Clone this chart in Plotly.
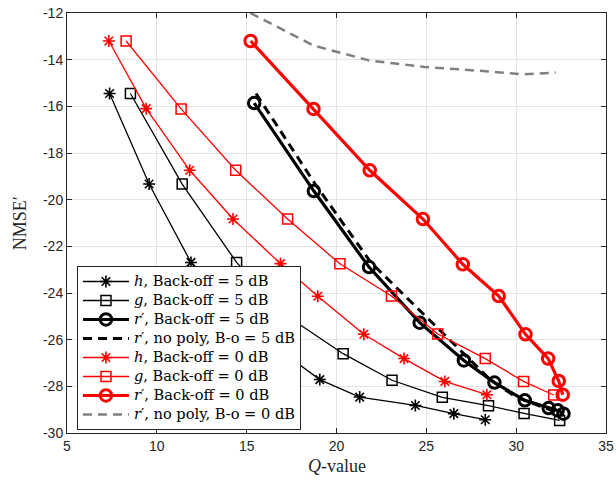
import plotly.graph_objects as go

# ---- data ----
h5_x = [7.37, 9.57, 11.90, 14.20, 17.11, 19.07, 21.29, 24.39, 26.53, 28.28]
h5_y = [-15.45, -19.33, -22.69, -24.90, -26.60, -27.71, -28.46, -28.82, -29.17, -29.43]

g5_x = [8.53, 11.41, 14.44, 17.08, 20.37, 23.09, 25.89, 28.46, 30.44, 32.42]
g5_y = [-15.45, -19.33, -22.69, -24.90, -26.60, -27.74, -28.47, -28.83, -29.16, -29.46]

r5_x = [15.42, 18.74, 21.81, 24.63, 27.09, 28.79, 30.48, 31.81, 32.31, 32.63]
r5_y = [-15.86, -19.63, -22.89, -25.27, -26.89, -27.84, -28.60, -28.93, -29.03, -29.17]

np5_x = [15.52, 18.81, 21.91, 24.85, 27.10, 28.55, 30.00, 31.30, 32.20, 32.65]
np5_y = [-15.45, -19.33, -22.69, -24.90, -26.60, -27.71, -28.46, -28.82, -29.10, -29.25]

h0_x = [7.33, 9.41, 11.83, 14.24, 16.88, 18.96, 21.52, 23.76, 26.03, 28.37]
h0_y = [-13.20, -16.10, -18.74, -20.83, -22.74, -24.14, -25.77, -26.81, -27.79, -28.36]

g0_x = [8.29, 11.35, 14.39, 17.28, 20.19, 23.06, 25.64, 28.28, 30.41, 32.09]
g0_y = [-13.20, -16.11, -18.74, -20.83, -22.75, -24.13, -25.76, -26.81, -27.79, -28.37]

r0_x = [15.22, 18.72, 21.85, 24.81, 27.03, 29.03, 30.52, 31.78, 32.37, 32.59]
r0_y = [-13.20, -16.11, -18.74, -20.83, -22.77, -24.13, -25.77, -26.81, -27.77, -28.36]

np0_x = [15.20, 18.74, 21.80, 24.90, 27.50, 30.40, 32.20]
np0_y = [-12.00, -13.40, -14.03, -14.31, -14.45, -14.63, -14.55]

x_ticks = [5, 10, 15, 20, 25, 30, 35]
x_ticklabels = ["5", "10", "15", "20", "25", "30", "35"]
y_ticks = [-30, -28, -26, -24, -22, -20, -18, -16, -14, -12]
y_ticklabels = ["-30", "-28", "-26", "-24", "-22", "-20", "-18", "-16", "-14", "-12"]

labels = [
    "<i>h</i>, Back-off = 5 dB",
    "<i>g</i>, Back-off = 5 dB",
    "<i>r</i>′, Back-off = 5 dB",
    "<i>r</i>′, no poly, B-o = 5 dB",
    "<i>h</i>, Back-off = 0 dB",
    "<i>g</i>, Back-off = 0 dB",
    "<i>r</i>′, Back-off = 0 dB",
    "<i>r</i>′, no poly, B-o = 0 dB",
]
names = ['<span style="font-size:14.6px">' + s + "</span>" for s in labels]

BLACK = "#000000"
RED = "#ff0000"
GRAY = "#808080"

fig = go.Figure()

def add(x, y, name, color, width, symbol=None, msize=10, mwidth=1.5, dash="solid"):
    mode = "lines+markers" if symbol else "lines"
    kw = {}
    if symbol:
        kw["marker"] = dict(symbol=symbol, size=msize, color=color,
                            line=dict(color=color, width=mwidth))
    fig.add_trace(go.Scatter(x=x, y=y, name=name, mode=mode,
                             line=dict(color=color, width=width, dash=dash),
                             hoverinfo="skip", **kw))

add(h5_x, h5_y, names[0], BLACK, 1.3, "asterisk-open", 10, 1.6)
add(g5_x, g5_y, names[1], BLACK, 1.3, "square-open", 10, 1.5)
add(r5_x, r5_y, names[2], BLACK, 3.2, "circle-open", 11.5, 3)
add(np5_x, np5_y, names[3], BLACK, 3, None, dash="9px,6px")
add(h0_x, h0_y, names[4], RED, 1.3, "asterisk-open", 10, 1.6)
add(g0_x, g0_y, names[5], RED, 1.3, "square-open", 10, 1.5)
add(r0_x, r0_y, names[6], RED, 3.2, "circle-open", 11.5, 3)
add(np0_x, np0_y, names[7], GRAY, 2.5, None, dash="9px,6px")

axis_common = dict(
    showline=True, linecolor="#262626", linewidth=1, mirror="ticks",
    ticks="inside", ticklen=5, tickcolor="#262626",
    showgrid=True, gridcolor="#e3e3e3", gridwidth=1, zeroline=False,
    automargin=False, ticklabeloverflow="allow",
    tickfont=dict(family="Liberation Sans, Arial, sans-serif", size=14, color="#262626"),
)

fig.update_layout(
    width=616, height=480,
    margin=dict(l=66.7, r=10, t=12.7, b=47.3),
    paper_bgcolor="white", plot_bgcolor="white",
    showlegend=True,
    legend=dict(
        x=0.0185, y=0.0072, xanchor="left", yanchor="bottom",
        bgcolor="white", bordercolor="#262626", borderwidth=1,
        font=dict(family="DejaVu Serif, serif", size=12.3, color="#000000"),
        tracegroupgap=0, itemwidth=46,
    ),
    xaxis=dict(range=[5, 35], tickvals=x_ticks, ticktext=x_ticklabels, **axis_common),
    yaxis=dict(range=[-30, -12], tickvals=y_ticks, ticktext=y_ticklabels, **axis_common),
    annotations=[
        dict(text="<i>Q</i>-value", xref="paper", yref="paper", x=0.5, y=-0.079,
             xanchor="center", yanchor="middle", showarrow=False,
             font=dict(family="Liberation Serif, serif", size=18, color="#262626")),
        dict(text="NMSE′", xref="paper", yref="paper", x=-0.0866, y=0.5,
             xanchor="center", yanchor="middle", showarrow=False, textangle=-90,
             font=dict(family="Liberation Serif, serif", size=18, color="#262626")),
    ],
)

fig.write_html("out.html", config={"displayModeBar": False},
               post_script="document.body.style.margin='0';")
